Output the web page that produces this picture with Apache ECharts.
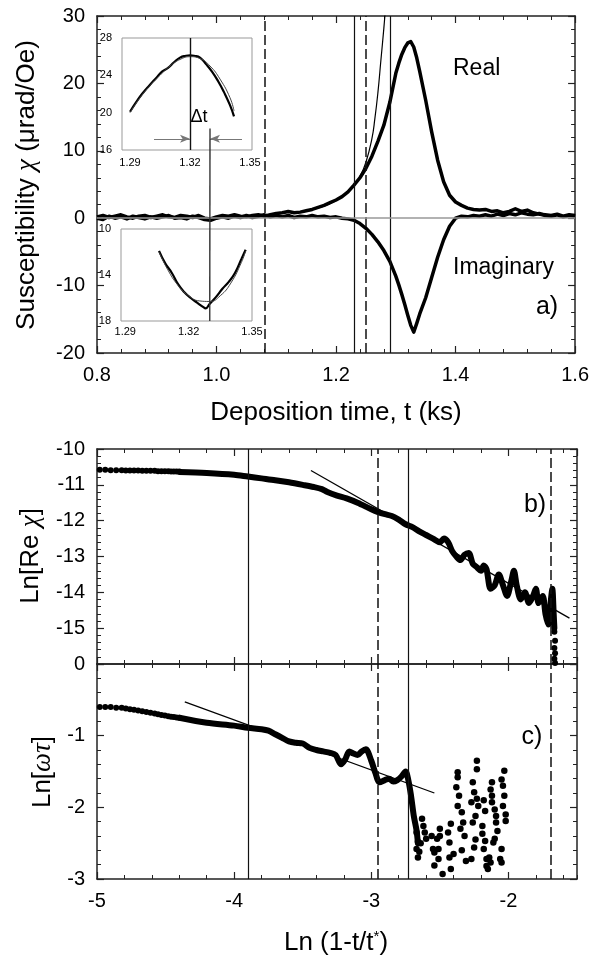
<!DOCTYPE html>
<html><head><meta charset="utf-8">
<script src="https://cdn.jsdelivr.net/npm/echarts@6/dist/echarts.min.js"></script>
<style>html,body{margin:0;padding:0;background:#fff}#c{width:592px;height:956px}</style>
</head><body><div id="c"></div>
<script>
// ---------- Panel a: susceptibility vs deposition time ----------
const aTime = [0.80,0.81,0.82,0.83,0.84,0.85,0.86,0.87,0.88,0.89,
0.90,0.91,0.92,0.93,0.94,0.95,0.96,0.97,0.98,0.99,
1.00,1.01,1.02,1.03,1.04,1.05,1.06,1.07,1.08,1.09,
1.10,1.11,1.12,1.13,1.14,1.15,1.16,1.17,1.18,1.19,
1.20,1.21,1.22,1.23,1.24,1.25,1.26,1.27,1.28,1.29,
1.30,1.305,1.31,1.315,1.32,1.325,1.33,1.335,1.34,
1.35,1.36,1.37,1.38,1.39,1.40,1.41,1.42,1.43,1.44,
1.45,1.46,1.47,1.48,1.49,1.50,1.51,1.52,1.53,1.54,
1.55,1.56,1.57,1.58,1.59,1.60];
const aReal = [0.2,0.4,0.1,0.3,0.5,0.2,0.0,0.3,0.4,0.1,
0.3,0.5,0.2,0.1,0.4,0.3,0.1,0.4,0.0,-0.1,
0.2,0.4,0.3,0.5,0.3,0.2,0.4,0.5,0.3,0.5,
0.7,0.8,1.0,0.8,0.9,1.1,1.3,1.6,1.9,2.3,
2.7,3.2,3.9,4.9,6.0,7.4,9.2,11.4,13.8,17.2,
21.5,23.0,24.3,25.3,26.0,26.2,25.4,23.8,21.8,
17.5,12.8,8.6,5.4,3.4,2.4,1.9,1.5,1.3,1.2,
1.3,1.0,1.1,0.8,1.0,1.4,1.0,1.2,0.8,0.6,
0.5,0.4,0.6,0.3,0.5,0.4];
const aImag = [0.0,-0.2,0.3,0.0,0.2,-0.1,0.3,0.1,-0.1,0.2,
0.0,0.2,0.4,0.0,0.1,-0.1,0.3,0.1,-0.2,-0.3,
0.0,0.2,0.0,0.3,0.1,0.4,0.1,0.3,0.5,0.2,
0.4,0.2,0.4,0.1,0.3,0.2,0.4,0.2,0.3,0.1,
0.2,0.0,-0.1,-0.3,-0.8,-1.5,-2.4,-3.5,-4.8,-6.4,
-8.6,-9.9,-11.3,-12.8,-14.4,-15.9,-16.9,-15.6,-14.2,
-11.8,-8.8,-5.8,-3.2,-1.2,0.0,0.3,0.2,0.4,0.3,
0.5,0.3,0.6,0.4,0.7,0.5,0.8,0.6,0.5,0.7,
0.4,0.3,0.5,0.2,0.4,0.3];
const aFitT = [1.15,1.20,1.23,1.24,1.25,1.26,1.265,1.27,1.275,1.28,1.2825];
const aFitV = [1.1,2.6,4.9,6.2,8.3,11.8,14.8,18.6,23.4,28.2,31.0];
const aGuideX = [1.077,1.232,1.25,1.295];
const aGuideDashed = [true,false,true,false];

// ---------- Insets ----------
const inUpT = [1.290,1.293,1.296,1.300,1.303,1.306,1.309,1.312,1.315,1.318,1.320,1.322,1.325,1.328,1.331,1.334,1.337,1.340,1.342];
const inUpV = [20.1,21.1,22.0,23.0,23.7,24.4,24.8,25.4,25.9,26.1,26.15,26.1,25.9,25.2,24.4,23.4,22.2,20.8,19.6];
const inUpFitT = [1.290,1.295,1.300,1.305,1.310,1.315,1.320,1.325,1.330,1.335,1.340,1.342];
const inUpFitV = [20.0,21.6,22.9,24.0,25.0,25.7,26.0,25.8,25.0,23.6,21.6,20.2];
const inLoT = [1.306,1.309,1.312,1.315,1.318,1.321,1.324,1.327,1.328,1.330,1.333,1.336,1.339,1.342,1.345,1.347];
const inLoV = [-11.9,-13.0,-13.8,-14.8,-15.5,-16.0,-16.4,-16.8,-16.9,-16.5,-15.9,-15.2,-14.6,-13.8,-12.6,-11.8];
const inLoFitT = [1.306,1.310,1.315,1.320,1.325,1.330,1.335,1.340,1.345,1.347];
const inLoFitV = [-12.0,-13.5,-14.9,-15.8,-16.25,-16.3,-15.8,-14.7,-12.9,-11.9];
const inTickLabels = [1.29,1.32,1.35];
const inLoYLabels = [-18,-14,-10];
const realPeakT = 1.32, imagPeakT = 1.33;   // Delta t markers
const arrowLevel = 17.2, arrowLeftT = 1.302, arrowRightT = 1.346, linkTop = 18.3;

// ---------- Panel b: Ln[Re chi] ----------
const bDotX = [-4.98,-4.94,-4.90,-4.86,-4.82,-4.79,-4.76,-4.73,-4.70,-4.67,-4.64,-4.61,-4.58,-4.555,-4.53,-4.505,-4.48,-4.46,-4.44,-4.42,-4.40];
const bDotY = [-10.58,-10.58,-10.59,-10.59,-10.59,-10.60,-10.60,-10.60,-10.60,-10.61,-10.61,-10.61,-10.61,-10.62,-10.62,-10.62,-10.62,-10.63,-10.63,-10.63,-10.63];
const bBandX = [-4.40,-4.2,-4.0,-3.9,-3.8,-3.7,-3.6,-3.5,-3.42,-3.36,-3.32,-3.25,-3.18,-3.1,-3.0,-2.95,-2.9,-2.85,-2.8,-2.75,-2.7,-2.65,-2.6,-2.55,-2.5,-2.47,-2.44,-2.41,-2.38,-2.35,-2.32,-2.29,-2.26,-2.23,-2.2,-2.18,-2.16,-2.13,-2.1,-2.07,-2.04,-2.01,-1.98,-1.96,-1.94,-1.91,-1.88,-1.85,-1.82,-1.80,-1.78,-1.75,-1.73,-1.71,-1.69,-1.68,-1.67,-1.665];
const bBandY = [-10.64,-10.67,-10.72,-10.77,-10.82,-10.87,-10.93,-11.0,-11.06,-11.12,-11.2,-11.3,-11.38,-11.5,-11.68,-11.76,-11.82,-11.87,-11.97,-12.1,-12.18,-12.3,-12.4,-12.5,-12.6,-12.5,-12.6,-12.85,-13.0,-13.1,-12.95,-12.9,-13.2,-13.3,-13.4,-13.25,-13.35,-13.9,-13.8,-13.5,-13.8,-14.1,-13.7,-13.4,-13.8,-14.2,-14.0,-14.3,-14.1,-13.9,-14.3,-14.1,-14.6,-14.9,-14.2,-13.9,-14.6,-15.0];
const bTailX = [-1.665,-1.66,-1.665,-1.66,-1.665,-1.66];
const bTailY = [-15.1,-15.35,-15.55,-15.7,-15.85,-15.97];
const bFitX = [-3.44,-1.555];
const bFitY = [-10.6,-14.72];

// ---------- Panel c: Ln[omega tau] ----------
const cDotX = [-4.98,-4.94,-4.90,-4.86,-4.82,-4.79,-4.76,-4.73,-4.70,-4.67,-4.64,-4.61,-4.58,-4.555,-4.53,-4.505,-4.48,-4.46,-4.44,-4.42,-4.40];
const cDotY = [-0.60,-0.60,-0.60,-0.61,-0.61,-0.62,-0.63,-0.64,-0.65,-0.66,-0.67,-0.68,-0.69,-0.70,-0.71,-0.72,-0.73,-0.735,-0.74,-0.745,-0.75];
const cBandX = [-4.40,-4.2,-4.0,-3.9,-3.8,-3.75,-3.7,-3.65,-3.6,-3.55,-3.5,-3.45,-3.4,-3.35,-3.3,-3.26,-3.22,-3.19,-3.16,-3.13,-3.1,-3.07,-3.04,-3.0,-2.97,-2.94,-2.9,-2.87,-2.84,-2.81,-2.78,-2.75,-2.73,-2.71,-2.69,-2.67,-2.66];
const cBandY = [-0.75,-0.82,-0.86,-0.89,-0.91,-0.93,-0.98,-1.03,-1.08,-1.10,-1.11,-1.17,-1.2,-1.22,-1.24,-1.27,-1.40,-1.33,-1.22,-1.25,-1.27,-1.22,-1.19,-1.35,-1.52,-1.65,-1.62,-1.60,-1.64,-1.62,-1.57,-1.50,-1.62,-1.84,-2.12,-2.32,-2.5];
const cCloud = [[-2.67,-2.35],[-2.66,-2.48],[-2.67,-2.58],[-2.66,-2.70],[-2.63,-2.16],[-2.62,-2.26],[-2.61,-2.35],[-2.60,-2.44],[-2.64,-2.50],[-2.65,-2.62],
[-2.56,-2.40],[-2.55,-2.58],[-2.54,-2.63],[-2.52,-2.44],[-2.50,-2.30],[-2.50,-2.40],[-2.51,-2.58],[-2.54,-2.81],[-2.51,-2.72],[-2.48,-2.93],
[-2.43,-2.70],[-2.43,-2.49],[-2.44,-2.35],[-2.42,-2.23],[-2.42,-2.86],[-2.40,-2.65],
[-2.37,-1.51],[-2.37,-1.58],[-2.38,-1.72],[-2.36,-1.84],[-2.37,-1.98],[-2.34,-2.07],[-2.33,-2.21],[-2.35,-2.30],[-2.32,-2.40],[-2.34,-2.60],[-2.31,-2.75],
[-2.26,-1.65],[-2.25,-1.79],[-2.27,-1.93],[-2.23,-1.88],[-2.22,-1.98],[-2.24,-2.12],[-2.26,-2.21],[-2.23,-1.35],[-2.23,-1.47],[-2.25,-2.56],[-2.27,-2.72],[-2.24,-2.45],
[-2.19,-2.26],[-2.19,-2.37],[-2.17,-2.47],[-2.18,-2.58],[-2.16,-2.72],[-2.15,-2.86],[-2.14,-2.70],[-2.13,-2.77],[-2.16,-2.82],[-2.18,-1.90],[-2.17,-2.05],
[-2.12,-1.65],[-2.13,-1.75],[-2.12,-1.84],[-2.12,-1.93],[-2.09,-2.12],[-2.10,-2.03],[-2.09,-2.21],[-2.08,-2.33],[-2.11,-2.49],[-2.10,-2.44],
[-2.05,-1.61],[-2.04,-1.70],[-2.03,-1.49],[-2.03,-1.84],[-2.04,-1.98],[-2.02,-2.19],[-2.05,-2.58],[-2.06,-2.72],[-2.05,-2.77],[-2.02,-2.10]];
const cFitX = [-4.36,-2.54];
const cFitY = [-0.53,-1.80];
const bcGuideX = [-3.9,-2.95,-2.73,-1.69];
const bcGuideDashed = [false,true,false,true];

// ---------- helpers ----------
const FONT = '"Liberation Sans", Arial, sans-serif';
const SERIF = '"Liberation Serif", "DejaVu Serif", serif';
const AX = '#222';
const zip = (xs, ys) => xs.map((x, i) => [x, ys[i]]);

function frameAxis(kind, grid, min, max, interval, pos, showLabel, extra) {
  const ax = {
    type: 'value', gridIndex: grid, min: min, max: max, interval: interval, position: pos,
    axisLine: {show: true, onZero: false, lineStyle: {color: AX, width: 1.5}},
    axisTick: {show: true, inside: true, length: 7, lineStyle: {color: AX, width: 1.2}},
    minorTick: {show: true, splitNumber: 5, length: 4, lineStyle: {color: AX, width: 1}},
    splitLine: {show: false}, minorSplitLine: {show: false},
    axisLabel: {show: showLabel, fontSize: 20, color: '#000', fontFamily: FONT, margin: 12}
  };
  return Object.assign(ax, extra || {});
}
function minorAxis(grid, min, max, pos) {
  return {
    type: 'value', gridIndex: grid, min: min, max: max, interval: 0.2, position: pos,
    axisLine: {show: false, onZero: false},
    axisTick: {show: true, inside: true, length: 4, lineStyle: {color: AX, width: 1}},
    splitLine: {show: false}, axisLabel: {show: false}
  };
}
function insetAxis(grid, min, max, extra) {
  return Object.assign({
    type: 'value', gridIndex: grid, min: min, max: max,
    axisLine: {show: false}, axisTick: {show: false}, splitLine: {show: false},
    axisLabel: {show: true, fontSize: 11, color: '#000', fontFamily: FONT}
  }, extra);
}
function guideSeries(xi, yi, xs, dashed) {
  return {
    type: 'line', xAxisIndex: xi, yAxisIndex: yi, data: [], z: 1, silent: true,
    markLine: {
      silent: true, symbol: 'none', animation: false, label: {show: false},
      data: xs.map((x, i) => ({xAxis: x, lineStyle: {color: '#111', width: dashed[i] ? 1.5 : 1.2, type: dashed[i] ? [10, 4] : 'solid'}}))
    }
  };
}
const dot = {color: '#000', opacity: 1};

const chart = echarts.init(document.getElementById('c'), null, {renderer: 'canvas'});
const option = {
  animation: false,
  backgroundColor: '#fff',
  grid: [
    {left: 97, top: 16, width: 480, height: 337},
    {left: 122, top: 38, width: 130, height: 112, show: true, borderColor: '#999', borderWidth: 1},
    {left: 121, top: 229, width: 131, height: 92, show: true, borderColor: '#999', borderWidth: 1},
    {left: 97, top: 449, width: 480, height: 215},
    {left: 97, top: 664, width: 480, height: 215}
  ],
  xAxis: [
    frameAxis('x', 0, 0.8, 1.6, 0.2, 'bottom', true, {}),
    frameAxis('x', 0, 0.8, 1.6, 0.2, 'top', false, {}),
    insetAxis(1, 1.286, 1.351, {position: 'bottom', axisLabel: {show: true, fontSize: 11, color: '#000', fontFamily: FONT, margin: 7, customValues: inTickLabels, formatter: v => v.toFixed(2)}}),
    insetAxis(2, 1.288, 1.350, {position: 'bottom', axisLabel: {show: true, fontSize: 11, color: '#000', fontFamily: FONT, margin: 5, customValues: inTickLabels, formatter: v => v.toFixed(2)}}),
    frameAxis('x', 3, -5, -1.5, 1, 'bottom', false, {minorTick: {show: false}}),
    frameAxis('x', 3, -5, -1.5, 1, 'top', false, {minorTick: {show: false}}),
    frameAxis('x', 4, -5, -1.5, 1, 'bottom', true, {minorTick: {show: false}}),
    frameAxis('x', 4, -5, -1.5, 1, 'top', false, {minorTick: {show: false}}),
    minorAxis(3, -5, -1.5, 'bottom'),
    minorAxis(3, -5, -1.5, 'top'),
    minorAxis(4, -5, -1.5, 'bottom'),
    minorAxis(4, -5, -1.5, 'top')
  ],
  yAxis: [
    frameAxis('y', 0, -20, 30, 10, 'left', true, {}),
    frameAxis('y', 0, -20, 30, 10, 'right', false, {}),
    insetAxis(1, 16, 28, {interval: 4, axisLabel: {show: true, fontSize: 11, color: '#000', fontFamily: FONT, margin: 10}}),
    insetAxis(2, -18, -10, {axisLabel: {show: true, fontSize: 11, color: '#000', fontFamily: FONT, margin: 10, customValues: inLoYLabels, formatter: v => String(Math.abs(v))}}),
    frameAxis('y', 3, -16, -10, 1, 'left', true, {}),
    frameAxis('y', 3, -16, -10, 1, 'right', false, {}),
    frameAxis('y', 4, -3, 0, 1, 'left', true, {}),
    frameAxis('y', 4, -3, 0, 1, 'right', false, {})
  ],
  series: [
    // panel a
    guideSeries(0, 0, aGuideX, aGuideDashed),
    {type: 'line', xAxisIndex: 0, yAxisIndex: 0, data: [], z: 1, silent: true,
     markLine: {silent: true, symbol: 'none', animation: false, label: {show: false},
       data: [{yAxis: 0, lineStyle: {color: '#999', width: 1.5, type: 'solid'}}]}},
    {type: 'line', name: 'Real', xAxisIndex: 0, yAxisIndex: 0, data: zip(aTime, aReal), showSymbol: false,
     lineStyle: {color: '#000', width: 3.5, join: 'round'}, z: 3},
    {type: 'line', name: 'Imaginary', xAxisIndex: 0, yAxisIndex: 0, data: zip(aTime, aImag), showSymbol: false,
     lineStyle: {color: '#000', width: 3.5, join: 'round'}, z: 3},
    {type: 'line', name: 'fit', xAxisIndex: 0, yAxisIndex: 0, data: zip(aFitT, aFitV), showSymbol: false, smooth: true,
     lineStyle: {color: '#000', width: 1.2}, z: 4},
    // upper inset
    {type: 'line', xAxisIndex: 2, yAxisIndex: 2, data: zip(inUpT, inUpV), showSymbol: false, smooth: true,
     lineStyle: {color: '#000', width: 2.2}, z: 3,
     markLine: {silent: true, symbol: 'none', animation: false, label: {show: false},
       data: [{xAxis: realPeakT, lineStyle: {color: '#111', width: 1.4, type: 'solid'}}]}},
    {type: 'line', xAxisIndex: 2, yAxisIndex: 2, data: zip(inUpFitT, inUpFitV), showSymbol: false, smooth: true,
     lineStyle: {color: '#444', width: 1}, z: 4,
     markLine: {silent: true, animation: false, label: {show: false}, symbol: ['none', 'arrow'], symbolSize: [6, 10],
       lineStyle: {color: '#777', width: 1, type: 'solid'},
       data: [
         [{coord: [arrowLeftT, arrowLevel]}, {coord: [realPeakT, arrowLevel]}],
         [{coord: [arrowRightT, arrowLevel]}, {coord: [imagPeakT, arrowLevel]}]
       ]}},
    // lower inset
    {type: 'line', xAxisIndex: 3, yAxisIndex: 3, data: zip(inLoT, inLoV), showSymbol: false, smooth: true,
     lineStyle: {color: '#000', width: 2.2}, z: 3},
    {type: 'line', xAxisIndex: 3, yAxisIndex: 3, data: zip(inLoFitT, inLoFitV), showSymbol: false, smooth: true,
     lineStyle: {color: '#444', width: 1}, z: 4},
    // panel b
    guideSeries(4, 4, bcGuideX, bcGuideDashed),
    {type: 'scatter', xAxisIndex: 4, yAxisIndex: 4, data: zip(bDotX, bDotY), symbolSize: 6, itemStyle: dot, z: 3},
    {type: 'line', xAxisIndex: 4, yAxisIndex: 4, data: zip(bBandX, bBandY), showSymbol: false, smooth: 0.3,
     lineStyle: {color: '#000', width: 6, cap: 'round', join: 'round'}, z: 3},
    {type: 'scatter', xAxisIndex: 4, yAxisIndex: 4, data: zip(bTailX, bTailY), symbolSize: 6, itemStyle: dot, z: 3},
    {type: 'line', xAxisIndex: 4, yAxisIndex: 4, data: zip(bFitX, bFitY), showSymbol: false,
     lineStyle: {color: '#000', width: 1.3}, z: 4},
    // panel c
    guideSeries(6, 6, bcGuideX, bcGuideDashed),
    {type: 'scatter', xAxisIndex: 6, yAxisIndex: 6, data: zip(cDotX, cDotY), symbolSize: 6, itemStyle: dot, z: 3},
    {type: 'line', xAxisIndex: 6, yAxisIndex: 6, data: zip(cBandX, cBandY), showSymbol: false, smooth: 0.3,
     lineStyle: {color: '#000', width: 6, cap: 'round', join: 'round'}, z: 3},
    {type: 'scatter', xAxisIndex: 6, yAxisIndex: 6, data: cCloud, symbolSize: 6.5, itemStyle: dot, z: 3},
    {type: 'line', xAxisIndex: 6, yAxisIndex: 6, data: zip(cFitX, cFitY), showSymbol: false,
     lineStyle: {color: '#000', width: 1.3}, z: 4}
  ]
};
option.yAxis[4].axisLabel.showMinLabel = false;
option.xAxis[6].axisLabel.showMaxLabel = false;
option.xAxis[0].axisLabel.formatter = v => v.toFixed(1);
chart.setOption(option);

// texts and the Delta-t connector
const p1 = chart.convertToPixel({xAxisIndex: 2, yAxisIndex: 2}, [imagPeakT, linkTop]);
const p2 = chart.convertToPixel({xAxisIndex: 3, yAxisIndex: 3}, [imagPeakT, -18]);
function txt(x, y, text, size, extra, rot) {
  const el = {type: 'text', x: x, y: y, silent: true, z: 10,
    style: Object.assign({text: text, fontSize: size, fontFamily: FONT, fill: '#000', align: 'center', verticalAlign: 'middle'}, extra || {})};
  if (rot) el.rotation = rot;
  return el;
}
const richN = s => ({fontSize: s, fontFamily: FONT, fill: '#000'});
const richG = s => ({fontSize: s, fontFamily: SERIF, fontStyle: 'italic', fill: '#000'});
chart.setOption({
  graphic: [
    {type: 'line', silent: true, z: 5, shape: {x1: p1[0], y1: p1[1], x2: p2[0], y2: p2[1]}, style: {stroke: '#333', lineWidth: 1.4}},
    txt(199, 117, 'Δt', 18),
    txt(453, 69, 'Real', 23, {align: 'left'}),
    txt(453, 268, 'Imaginary', 23, {align: 'left'}),
    txt(547, 307, 'a)', 25),
    txt(535, 505, 'b)', 25),
    txt(532, 737, 'c)', 25),
    txt(336, 413, 'Deposition time, t (ks)', 26),
    txt(336, 943, '{n|Ln (1-t/t}{s|*}{n|)}', 26, {rich: {n: richN(26), s: Object.assign(richN(15), {verticalAlign: 'top', padding: [0, 0, 12, 0]})}}),
    txt(27, 185, '{n|Susceptibility }{g|χ}{n| (μrad/Oe)}', 26, {rich: {n: richN(26), g: richG(27)}}, Math.PI / 2),
    txt(31, 556, '{n|Ln[Re }{g|χ}{n|]}', 26, {rich: {n: richN(26), g: richG(27)}}, Math.PI / 2),
    txt(43, 772, '{n|Ln[}{g|ωτ}{n|]}', 26, {rich: {n: richN(26), g: richG(27)}}, Math.PI / 2)
  ]
});
</script></body></html>
